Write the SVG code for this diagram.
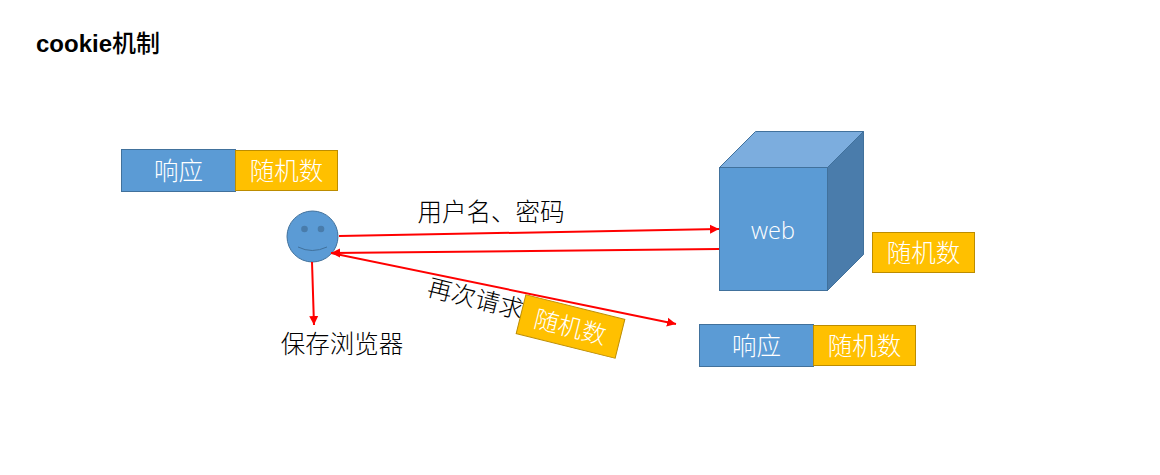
<svg xmlns="http://www.w3.org/2000/svg" width="1160" height="475" viewBox="0 0 1160 475">
<style>
.b{fill:#5b9bd5;stroke:#41719c;stroke-width:1}
.y{fill:#ffc000;stroke:#bc8c00;stroke-width:1}
.w{fill:#fff;font-family:"Noto Sans CJK SC","Liberation Sans",sans-serif;font-size:24.500px;font-weight:300;text-anchor:middle}
.k{fill:#000;font-family:"Noto Sans CJK SC","Liberation Sans",sans-serif;font-size:24.500px;font-weight:300;text-anchor:middle}
.c{stroke:#f00;stroke-width:2;fill:none}
</style>
<defs>
<marker id="a" markerUnits="userSpaceOnUse" markerWidth="11" markerHeight="11" refX="9" refY="5" orient="auto"><path d="M0 0.500L9 5L0 9.500Z" fill="#f00"/></marker>
</defs>
<rect width="1160" height="475" fill="#fff"/>
<text id="title" x="36" y="52" font-family="'Liberation Sans','Noto Sans CJK SC',sans-serif" font-size="24" font-weight="700" fill="#000">cookie<tspan font-weight="500">机制</tspan></text>
<g id="resp1"><rect class="b" x="121.500" y="149.500" width="114" height="42"/><text class="w" x="178.500" y="179.500">响应</text></g>
<g id="rand1"><rect class="y" x="235.500" y="150.500" width="102" height="40"/><text class="w" x="286.500" y="179.500">随机数</text></g>
<g id="user">
<circle class="b" cx="312.500" cy="236.500" r="25.500"/>
<circle cx="304.500" cy="229" r="3.300" fill="#497cab"/><circle cx="321" cy="229" r="3.300" fill="#497cab"/>
<path d="M298 247Q312 254 327 247" fill="none" stroke="#41719c" stroke-width="1"/>
</g>
<g id="web">
<path d="M719.500 167.500L755.500 131.500H863.500L827.500 167.500Z" fill="#7cadde" stroke="#41719c"/>
<path d="M827.500 167.500L863.500 131.500V254.500L827.500 290.500Z" fill="#4a7cab" stroke="#41719c"/>
<rect class="b" x="719.500" y="167.500" width="108" height="123"/>
<text x="773" y="238.500" fill="#fff" font-family="'Open Sans',sans-serif" font-weight="300" font-size="23.500" text-anchor="middle">web</text>
</g>
<g id="rand2"><rect class="y" x="872.500" y="232.500" width="102" height="40"/><text class="w" x="923.500" y="261.500">随机数</text></g>
<g id="resp2"><rect class="b" x="699.500" y="324.500" width="114" height="42"/><text class="w" x="756.500" y="354.500">响应</text></g>
<g id="rand3"><rect class="y" x="813.500" y="325.500" width="102" height="40"/><text class="w" x="864.500" y="354.500">随机数</text></g>
<g id="connectors">
<line class="c" x1="339" y1="236" x2="719" y2="229" marker-end="url(#a)"/>
<line class="c" x1="719" y1="249" x2="331" y2="253" marker-end="url(#a)"/>
<line class="c" x1="331" y1="253" x2="676" y2="324" marker-end="url(#a)"/>
<line class="c" x1="312" y1="262" x2="314" y2="325" marker-end="url(#a)"/>
</g>
<g id="label1"><text class="k" x="491" y="221">用户名、密码</text></g>
<g id="label2"><text class="k" x="342" y="353">保存浏览器</text></g>
<g id="label3"><text class="k" transform="translate(473.500 307) rotate(14)">再次请求</text></g>
<g id="rand4" transform="translate(570.500 326.500) rotate(14)"><rect class="y" x="-51" y="-20" width="102" height="40"/><text class="w" x="0" y="9.500">随机数</text></g>
</svg>
